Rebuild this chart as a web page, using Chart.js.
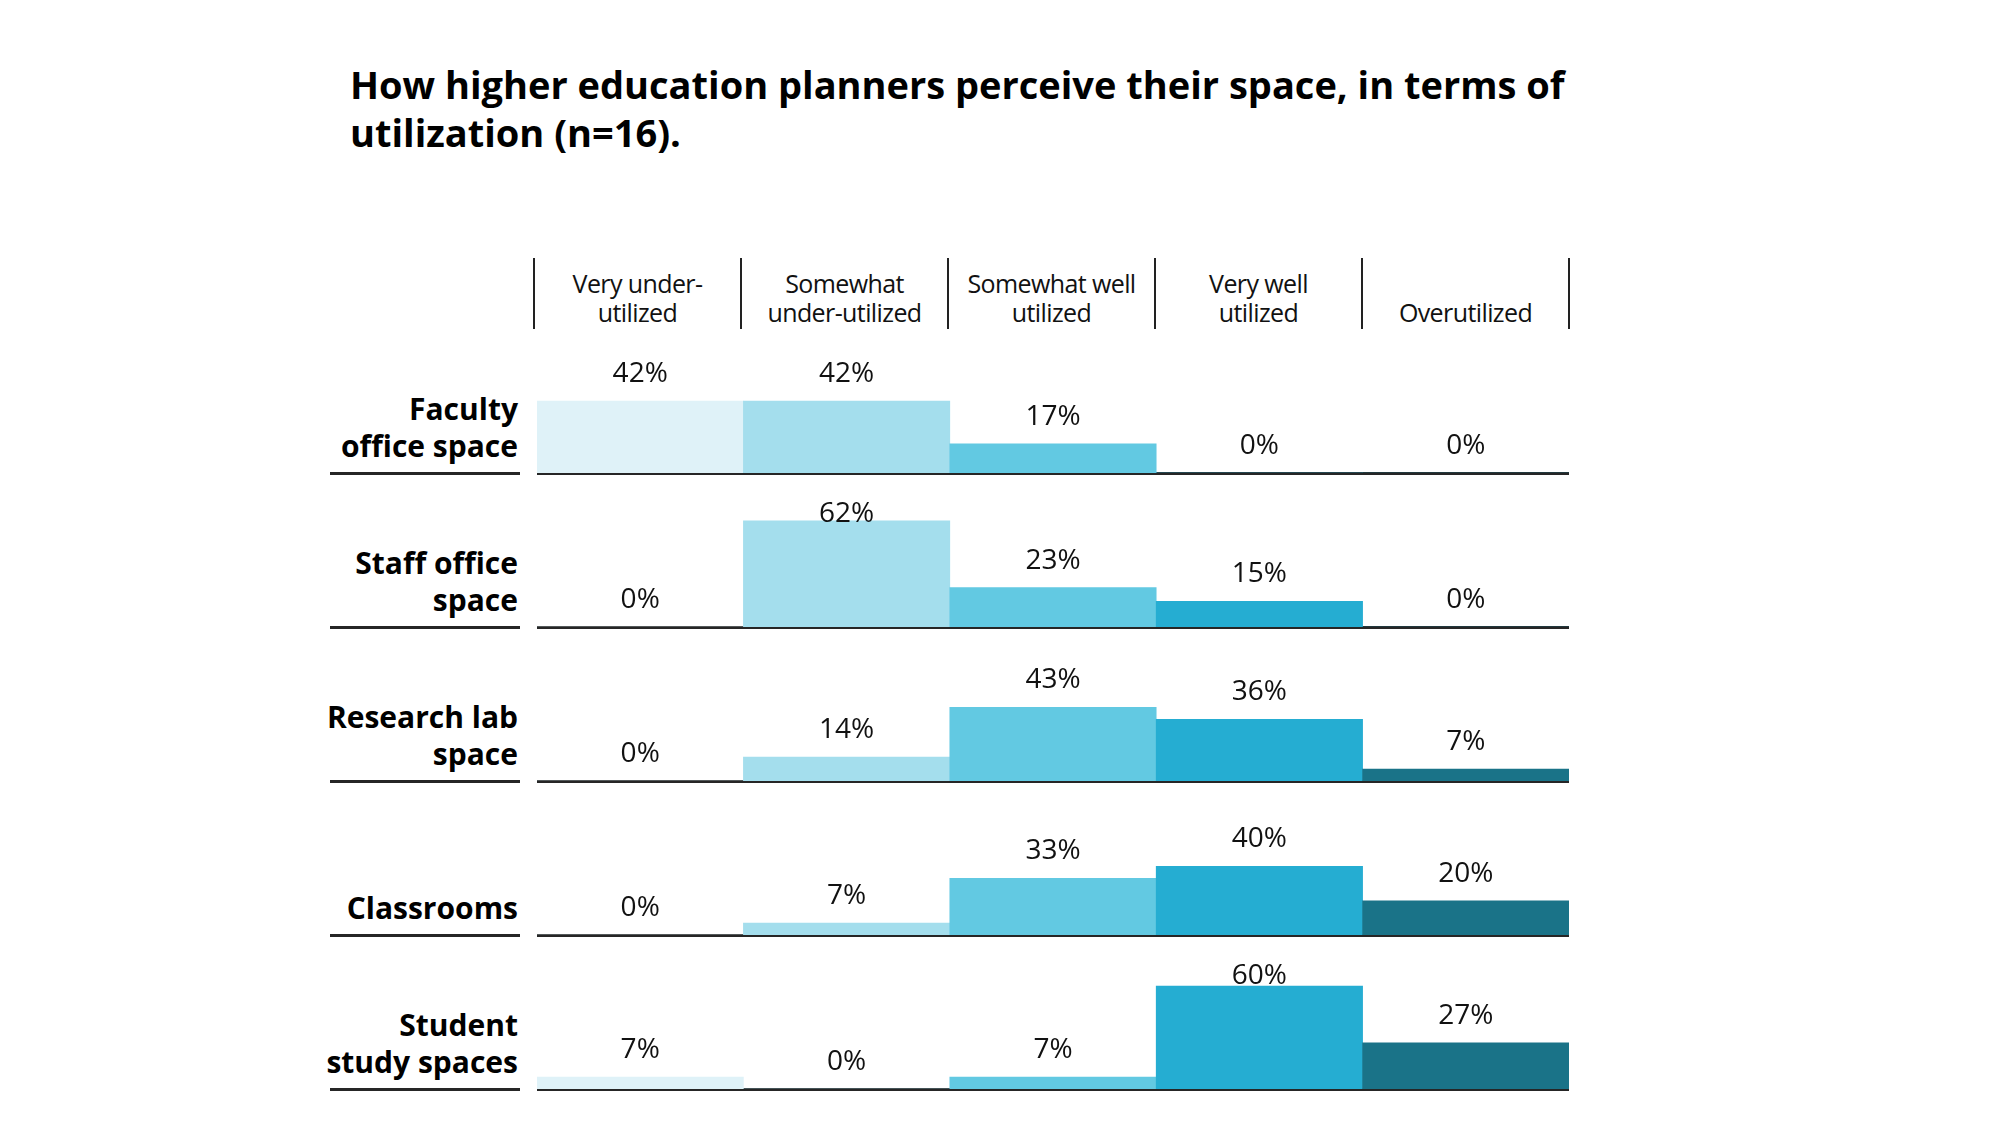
<!DOCTYPE html>
<html>
<head>
<meta charset="utf-8">
<script src="https://cdn.jsdelivr.net/npm/chart.js@4.4.1/dist/chart.umd.min.js"></script>
<style>
  body { margin:0; width:2000px; height:1125px; background:#fff; position:relative; overflow:hidden; font-family:"Open Sans", sans-serif; color:#000; }
  #title { position:absolute; left:350px; top:60px; font-weight:700; font-size:38px; line-height:48px; white-space:nowrap; }
  .sep { position:absolute; top:258px; width:2px; height:71px; background:#222; }
  .head { position:absolute; top:269px; width:207px; height:57px; font-size:25px; line-height:28.5px; letter-spacing:-0.6px; text-align:center; display:flex; flex-direction:column; justify-content:flex-end; color:#111; }
  .rowlab { position:absolute; width:300px; font-weight:700; font-size:30px; line-height:37px; letter-spacing:0px; text-align:right; }
  .uline { position:absolute; left:330px; width:190px; height:3px; background:#262626; }
  canvas.row { position:absolute; left:537px; }
</style>
</head>
<body>
<div id="title">How higher education planners perceive their space, in terms of<br>utilization (n=16).</div>
<script>
"use strict"

// answer options (columns)
const levels = ['Very under-\nutilized', 'Somewhat\nunder-utilized', 'Somewhat well\nutilized', 'Very well\nutilized', 'Overutilized']
// space types (rows)
const spaces = ['Faculty\noffice space', 'Staff office\nspace', 'Research lab\nspace', 'Classrooms', 'Student\nstudy spaces']

// percent of respondents, one array per row
const faculty    = [42, 42, 17, 0, 0]
const staff      = [0, 62, 23, 15, 0]
const research   = [0, 14, 43, 36, 7]
const classrooms = [0, 7, 33, 40, 20]
const student    = [7, 0, 7, 60, 27]

const rows = [faculty, staff, research, classrooms, student]
const colors = ['#dff2f8', '#a4deed', '#62c9e2', '#25add2', '#1a7388']

const firstAxis = 473   // y of first baseline
const rowStep = 154
const canvasH = 150
const padBottom = 4

// header cells + separators
for (let i = 0; i <= levels.length; i++) {
    let s = document.createElement('div')
    s.className = 'sep'
    s.style.left = (533 + 207 * i) + 'px'
    document.body.appendChild(s)
}
levels.forEach((txt, i) => {
    let h = document.createElement('div')
    h.className = 'head'
    h.style.left = (534 + 207 * i) + 'px'
    h.innerHTML = txt.split('\n').map(t => '<div>' + t + '</div>').join('')
    document.body.appendChild(h)
})

// % labels above the bars
const pctLabels = {
    id: 'pctLabels',
    afterDatasetsDraw(chart) {
        const {ctx, chartArea} = chart
        const meta = chart.getDatasetMeta(0)
        ctx.save()
        ctx.font = '28px "Open Sans"'
        ctx.fillStyle = '#111'
        ctx.textAlign = 'center'
        ctx.textBaseline = 'alphabetic'
        meta.data.forEach((bar, i) => {
            let v = chart.data.datasets[0].data[i]
            let y = Math.max(bar.y - 19, chartArea.bottom - 105)
            ctx.fillText(v + '%', bar.x, y)
        })
        ctx.restore()
    }
}

function draw_rows() {
    rows.forEach((vals, k) => {
        const axisY = firstAxis + rowStep * k

        // row label
        let lab = document.createElement('div')
        lab.className = 'rowlab'
        const lines = spaces[k].split('\n')
        lab.style.left = (518 - 300) + 'px'
        lab.style.top = (axisY - 9 - lines.length * 37) + 'px'
        lab.innerHTML = lines.join('<br>')
        document.body.appendChild(lab)

        let ul = document.createElement('div')
        ul.className = 'uline'
        ul.style.top = (axisY - 1.5) + 'px'
        document.body.appendChild(ul)

        // chart for the row
        let cv = document.createElement('canvas')
        cv.className = 'row'
        cv.width = 1032
        cv.height = canvasH
        cv.style.top = (axisY - canvasH + padBottom) + 'px'
        document.body.appendChild(cv)

        new Chart(cv, {
            type: 'bar',
            data: {
                labels: levels,
                datasets: [{
                    data: vals,
                    backgroundColor: colors,
                    borderWidth: 0,
                    categoryPercentage: 1,
                    barPercentage: 1
                }]
            },
            options: {
                responsive: false,
                animation: false,
                devicePixelRatio: 1,
                layout: { padding: { top: canvasH - padBottom - 120, bottom: padBottom, left: 0, right: 0 } },
                plugins: { legend: { display: false }, tooltip: { enabled: false } },
                scales: {
                    x: {
                        grid: { display: false, drawTicks: false },
                        ticks: { display: false },
                        border: { display: true, color: '#262626', width: 3 }
                    },
                    y: { display: false, min: 0, max: 70 }
                }
            },
            plugins: [pctLabels]
        })
    })
}

document.fonts.load('28px "Open Sans"').then(draw_rows, draw_rows)
</script>
</body>
</html>
